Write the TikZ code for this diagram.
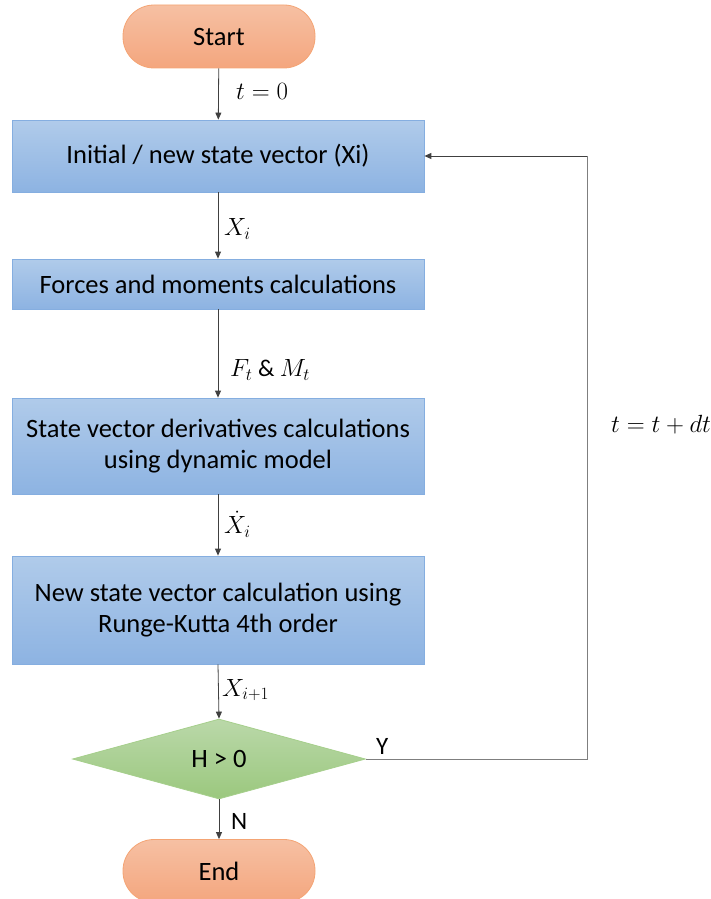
\documentclass[tikz,border=0pt]{standalone}
\usepackage[no-math]{fontspec}
\setmainfont{Carlito}
\usetikzlibrary{shapes.geometric,arrows.meta}
\definecolor{btop}{HTML}{B0CBEA}
\definecolor{bbot}{HTML}{8DB3E2}
\definecolor{bdraw}{HTML}{85AEE0}
\definecolor{otop}{HTML}{F6C0A3}
\definecolor{obot}{HTML}{F4A67E}
\definecolor{odraw}{HTML}{F4A474}
\definecolor{gtop}{HTML}{BAD8A9}
\definecolor{gbot}{HTML}{9BC87E}
\definecolor{gdraw}{HTML}{A6CF8C}
\definecolor{lnk}{HTML}{404040}
\definecolor{lpg}{HTML}{7F7F7F}
\tikzset{
  procbox/.style={rectangle, draw=bdraw, line width=0.8pt, top color=btop, bottom color=bbot,
    minimum width=412pt, inner sep=0pt, align=center,
    font=\fontsize{26.5}{31}\selectfont},
  termbox/.style={rectangle, rounded corners=31pt, draw=odraw, line width=0.8pt,
    top color=otop, bottom color=obot, minimum width=192pt, minimum height=63pt,
    inner sep=0pt, font=\fontsize{26.5}{31}\selectfont},
  decbox/.style={diamond, draw=gdraw, line width=0.8pt, top color=gtop, bottom color=gbot,
    minimum width=293pt, minimum height=80pt, inner sep=0pt, font=\fontsize{26.5}{31}\selectfont},
  flow/.style={draw=lnk, line width=0.8pt, -{Triangle[length=7pt,width=6pt]}},
  loopln/.style={draw=lpg, line width=1pt},
  lbl/.style={anchor=west, inner sep=0pt, font=\fontsize{24}{28}\selectfont},
  lbltxt/.style={anchor=west, inner sep=0pt, font=\fontsize{25}{29}\selectfont}
}
\begin{document}
\begin{tikzpicture}[x=1pt,y=-1pt]
\useasboundingbox (0,0) rectangle (711,899);
\node[termbox] (start) at (219,36.5) {Start};
\node[procbox, minimum height=72pt] (b1) at (218,156) {Initial / new state vector (Xi)};
\node[procbox, minimum height=50pt] (b2) at (218,284) {Forces and moments calculations};
\node[procbox, minimum height=96pt] (b3) at (218,446) {State vector derivatives calculations\\using dynamic model};
\node[procbox, minimum height=108pt] (b4) at (218,610) {New state vector calculation using\\Runge-Kutta 4th order};
\node[decbox] (dec) at (219,759) {H > 0};
\node[termbox] (end) at (219,871) {End};
\coordinate (lp) at (587,156);
\draw[flow] (start) -- (b1);
\draw[flow] (b1) -- (b2);
\draw[flow] (b2) -- (b3);
\draw[flow] (b3) -- (b4);
\draw[flow] (b4.south) -- (dec.north);
\draw[flow] (dec.south) -- (end.north);
\draw[loopln] (dec.east) -| (lp);
\draw[loopln, draw=lnk, -{Triangle[length=7pt,width=6pt]}] (lp) -- (b1.east);
\node[lbl] (l0) at (236,91) {$t=0$};
\node[lbl] (l1) at (224,229) {$X_i$};
\node[lbl] (l2) at (230,370) {$F_t$ \& $M_t$};
\node[lbl] (l3) at (224,524) {$\dot{X}_i$};
\node[lbl] (l4) at (222,690) {$X_{i+1}$};
\node[lbltxt] (ly) at (376,746) {Y};
\node[lbltxt] (ln) at (231,821) {N};
\node[lbl] (ldt) at (611,425) {$t=t+dt$};
\end{tikzpicture}
\end{document}
